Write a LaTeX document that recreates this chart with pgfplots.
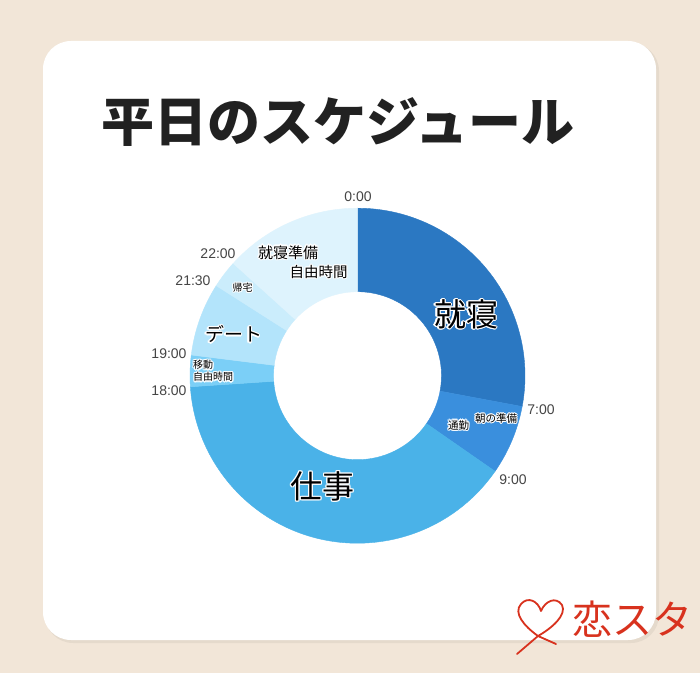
\documentclass[border=0pt]{standalone}
\usepackage{pgfplots}
\pgfplotsset{compat=1.18}
\usepackage{pgfplotstable}
\usepackage{fontspec}
\usepackage{contour}
\setmainfont{Noto Sans CJK JP}
\newfontfamily\hourfont{Liberation Sans}
\contourlength{1.2pt}
\contournumber{10}

\definecolor{bg}{HTML}{F2E6D8}
\definecolor{s1}{HTML}{2B78C2}
\definecolor{s2}{HTML}{3A8FDD}
\definecolor{s3}{HTML}{4AB2E8}
\definecolor{s4}{HTML}{7BCFF7}
\definecolor{s5}{HTML}{B3E4FB}
\definecolor{s6}{HTML}{CBEDFC}
\definecolor{s7}{HTML}{DEF3FD}
\definecolor{hour}{HTML}{454545}
\definecolor{logo}{HTML}{D8321E}

% slices: start and end angle, clockwise from 0:00 at the top
\pgfplotstableread{
a0    a1    idx
0     100.6 1
100.6 124.8 2
124.8 266.2 3
266.2 277.1 4
277.1 302.5 5
302.5 312.1 6
312.1 360   7
}\slices

\begin{document}
\begin{tikzpicture}[x=1pt,y=1pt]
\fill[bg] (0,0) rectangle (700,673);
\fill[black,opacity=0.05,rounded corners=28pt] (45,30) rectangle (659,630);
\fill[white,rounded corners=28pt] (43,33) rectangle (656,632);

\node[font=\fontsize{53}{60}\selectfont\bfseries,text=black!87] at (338,551) {平日のスケジュール};

\begin{axis}[
  at={(357.5pt,297.3pt)}, anchor=center,
  x=1pt, y=1pt,
  xmin=-200, xmax=200, ymin=-200, ymax=200,
  scale only axis, axis lines=none, clip=false,
]
\addplot[scatter, only marks, mark=*,
  mark options={draw opacity=0, fill opacity=0},
  point meta=\thisrow{a0},
  visualization depends on={\thisrow{a0} \as \sa},
  visualization depends on={\thisrow{a1} \as \sb},
  visualization depends on={\thisrow{idx} \as \si},
  scatter/@pre marker code/.code={%
    \pgfmathtruncatemacro\ci{\si}%
    \fill[color=s\ci,fill opacity=1,draw opacity=1] ({90-\sa}:167.5pt) arc[start angle={90-\sa}, end angle={90-\sb}, radius=167.5pt]
      -- ({90-\sb}:84pt) arc[start angle={90-\sb}, end angle={90-\sa}, radius=84pt] -- cycle;
    \scope
  },
  scatter/@post marker code/.code={\endscope},
] table[x expr=0, y expr=0] {\slices};
\end{axis}

% hour labels
\begin{scope}[every node/.style={text=hour,font=\hourfont\fontsize{14}{16}\selectfont}]
\node at (358,476) {0:00};
\node at (541,263) {7:00};
\node at (513,193) {9:00};
\node at (169,282) {18:00};
\node at (169,319) {19:00};
\node at (193,392) {21:30};
\node at (218,419) {22:00};
\end{scope}

% slice labels
\node[font=\fontsize{32}{36}\selectfont] at (466,358) {\contour{white}{就寝}};
\node[font=\fontsize{32}{36}\selectfont] at (322.5,186) {\contour{white}{仕事}};
\node[font=\fontsize{19}{22}\selectfont] at (233.5,338) {\contour{white}{デート}};
\node[font=\fontsize{10.5}{12}\selectfont] at (496,254) {\contour{white}{朝の準備}};
\node[font=\fontsize{10.5}{12}\selectfont] at (458.5,247.3) {\contour{white}{通勤}};
\node[font=\fontsize{10}{12}\selectfont] at (242.7,384.7) {\contour{white}{帰宅}};
\node[font=\fontsize{10}{12}\selectfont,anchor=west,inner sep=0pt] at (193,307.3) {\contour{white}{移動}};
\node[font=\fontsize{10}{12}\selectfont,anchor=west,inner sep=0pt] at (193,295.3) {\contour{white}{自由時間}};
\node[font=\fontsize{15}{18}\selectfont] at (288,420) {\contour{white}{就寝準備}};
\node[font=\fontsize{14.5}{18}\selectfont] at (318.5,400.5) {\contour{white}{自由時間}};

% logo
\draw[logo,line width=1.8pt,line cap=round,line join=round]
  (556,29) -- (538,37) .. controls (524,47) and (513,60) .. (521,69)
  .. controls (528,77) and (538,72) .. (541,62)
  .. controls (545,72) and (556,77) .. (562,68)
  .. controls (567,58) and (552,45) .. (538,37) -- (517,19);
\node[text=logo,font=\fontsize{40}{44}\selectfont] at (632,54) {恋スタ};
\end{tikzpicture}
\end{document}
